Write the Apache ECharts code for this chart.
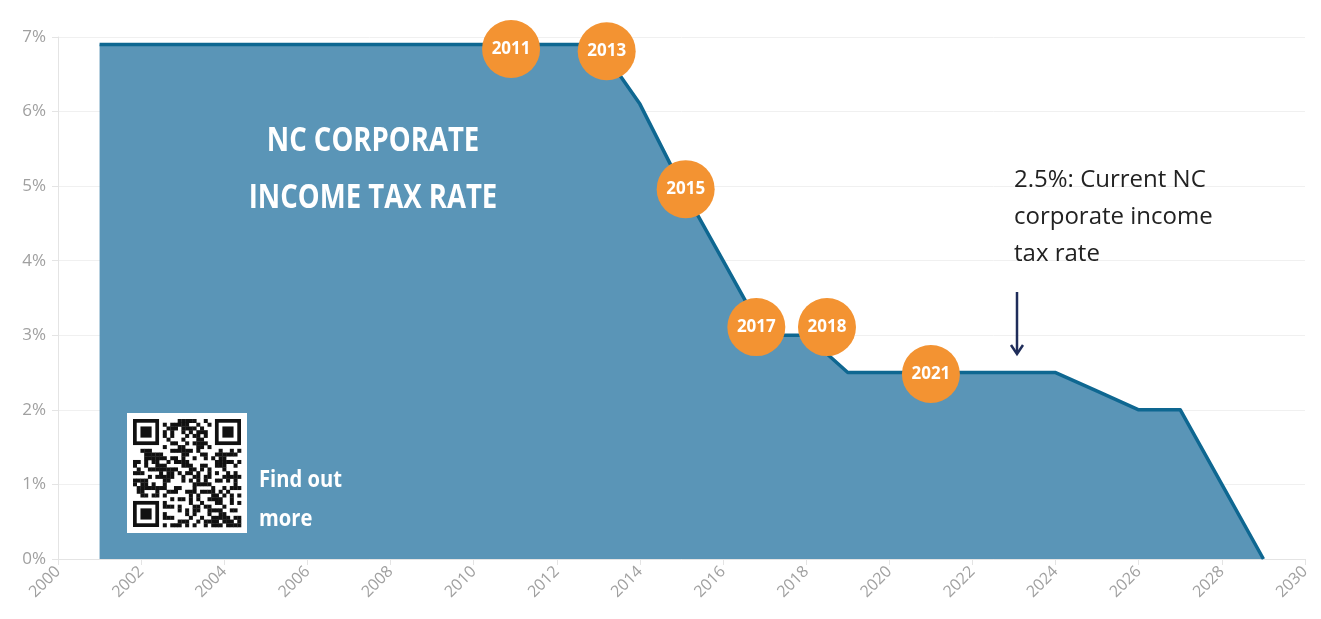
<!DOCTYPE html>
<html><head><meta charset="utf-8">
<script src="https://cdn.jsdelivr.net/npm/echarts@6/dist/echarts.min.js"></script>
<style>html,body{margin:0;padding:0;background:#fff}#c{width:1321px;height:619px}</style>
</head><body><div id="c"></div>
<script>
var years = [2001,2002,2003,2004,2005,2006,2007,2008,2009,2010,2011,2012,2013,2014,2015,2016,2017,2018,2019,2020,2021,2022,2023,2024,2025,2026,2027,2028,2029];
var rates = [6.9,6.9,6.9,6.9,6.9,6.9,6.9,6.9,6.9,6.9,6.9,6.9,6.9,6.1,5.0,4.0,3.0,3.0,2.5,2.5,2.5,2.5,2.5,2.5,2.25,2.0,2.0,1.0,0.0];
var markerLabels = ['2011','2013','2015','2017','2018','2021'];
var markerYears = [2010.9,2013.2,2015.1,2016.8,2018.5,2021.0];
var markerRates = [6.84,6.81,4.96,3.11,3.11,2.48];
var yTicks = ['0%','1%','2%','3%','4%','5%','6%','7%'];

var chart = echarts.init(document.getElementById('c'));
var lineData = years.map(function(y,i){return [y,rates[i]];});
var markerData = markerYears.map(function(y,i){return {value:[y,markerRates[i]], name:markerLabels[i]};});

// decorative QR-like block (fixed bit pattern from an integer hash)
function qr(x0,y0,size){
  var n=29, m=size/n, els=[{type:'rect',z:20,shape:{x:x0-6,y:y0-6,width:size+12,height:size+12},style:{fill:'#fff'}}];
  function finder(cx,cy){
    els.push({type:'rect',z:22,shape:{x:x0+cx*m,y:y0+cy*m,width:7*m,height:7*m},style:{fill:'#111'}});
    els.push({type:'rect',z:23,shape:{x:x0+(cx+1)*m,y:y0+(cy+1)*m,width:5*m,height:5*m},style:{fill:'#fff'}});
    els.push({type:'rect',z:24,shape:{x:x0+(cx+2)*m,y:y0+(cy+2)*m,width:3*m,height:3*m},style:{fill:'#111'}});
  }
  function bit(i,j){
    var h = (i*374761393 + j*668265263) | 0;
    h = Math.imul(h ^ (h >>> 13), 1274126177);
    h = h ^ (h >>> 16);
    return (h & 1) === 1;
  }
  for(var i=0;i<n;i++)for(var j=0;j<n;j++){
    if((i<8&&j<8)||(i<8&&j>n-9)||(i>n-9&&j<8))continue;
    if(bit(i,j))
      els.push({type:'rect',z:21,shape:{x:x0+j*m,y:y0+i*m,width:m+0.3,height:m+0.3},style:{fill:'#111'}});
  }
  finder(0,0);finder(n-7,0);finder(0,n-7);
  return els;
}

var FONT_C = '"Open Sans", sans-serif';
var graphics = [
  {type:'text',x:373,y:113,scaleX:0.81,z:30,style:{text:'NC CORPORATE\nINCOME TAX RATE',x:0,y:0,align:'center',fill:'#fff',font:'bold 34px '+FONT_C,lineHeight:57}},
  {type:'text',x:259,y:461,scaleX:0.84,z:30,style:{text:'Find out\nmore',x:0,y:0,fill:'#fff',font:'bold 24px '+FONT_C,lineHeight:39}},
  {type:'text',x:1014,y:162,z:30,style:{text:'2.5%: Current NC\ncorporate income\ntax rate',x:0,y:0,fill:'#222',font:'24px "Open Sans", sans-serif',lineHeight:37}},
  {type:'line',z:30,shape:{x1:1017,y1:292,x2:1017,y2:353},style:{stroke:'#1f2d5a',lineWidth:2.5}},
  {type:'polyline',z:30,shape:{points:[[1011,345],[1017,354],[1023,345]]},style:{stroke:'#1f2d5a',lineWidth:2.5,fill:null}}
].concat(qr(133,419,108));

chart.setOption({
  animation:false,
  grid:{left:58,right:16,top:37,bottom:60},
  xAxis:{type:'value',min:2000,max:2030,interval:2,
    axisLine:{show:true,lineStyle:{color:'#e4e4e4'}},
    axisTick:{show:true,length:6,lineStyle:{color:'#e4e4e4'}},
    splitLine:{show:false},
    axisLabel:{rotate:45,color:'#a0a0a0',fontSize:16,fontFamily:'Open Sans',margin:10,formatter:function(v){return String(v);}}},
  yAxis:{type:'value',min:0,max:7,interval:1,
    axisLine:{show:true,lineStyle:{color:'#e4e4e4'}},
    axisTick:{show:true,length:6,lineStyle:{color:'#e4e4e4'}},
    splitLine:{show:true,lineStyle:{color:'#f0f0f0'}},
    axisLabel:{color:'#a0a0a0',fontSize:17,fontFamily:'Open Sans',margin:12,formatter:function(v){return yTicks[Math.round(v)];}}},
  series:[
    {type:'line',data:lineData,symbol:'none',smooth:false,
      lineStyle:{color:'#0e6791',width:3.5,join:'round'},
      areaStyle:{color:'#5a95b7',opacity:1},z:2},
    {type:'scatter',data:markerData,symbolSize:58,
      itemStyle:{color:'#f39332',opacity:1},
      label:{show:true,position:'inside',formatter:'{b}',color:'#fff',fontWeight:'bold',fontSize:17,fontFamily:'Open Sans'},z:5}
  ],
  graphic:graphics
});
</script></body></html>
